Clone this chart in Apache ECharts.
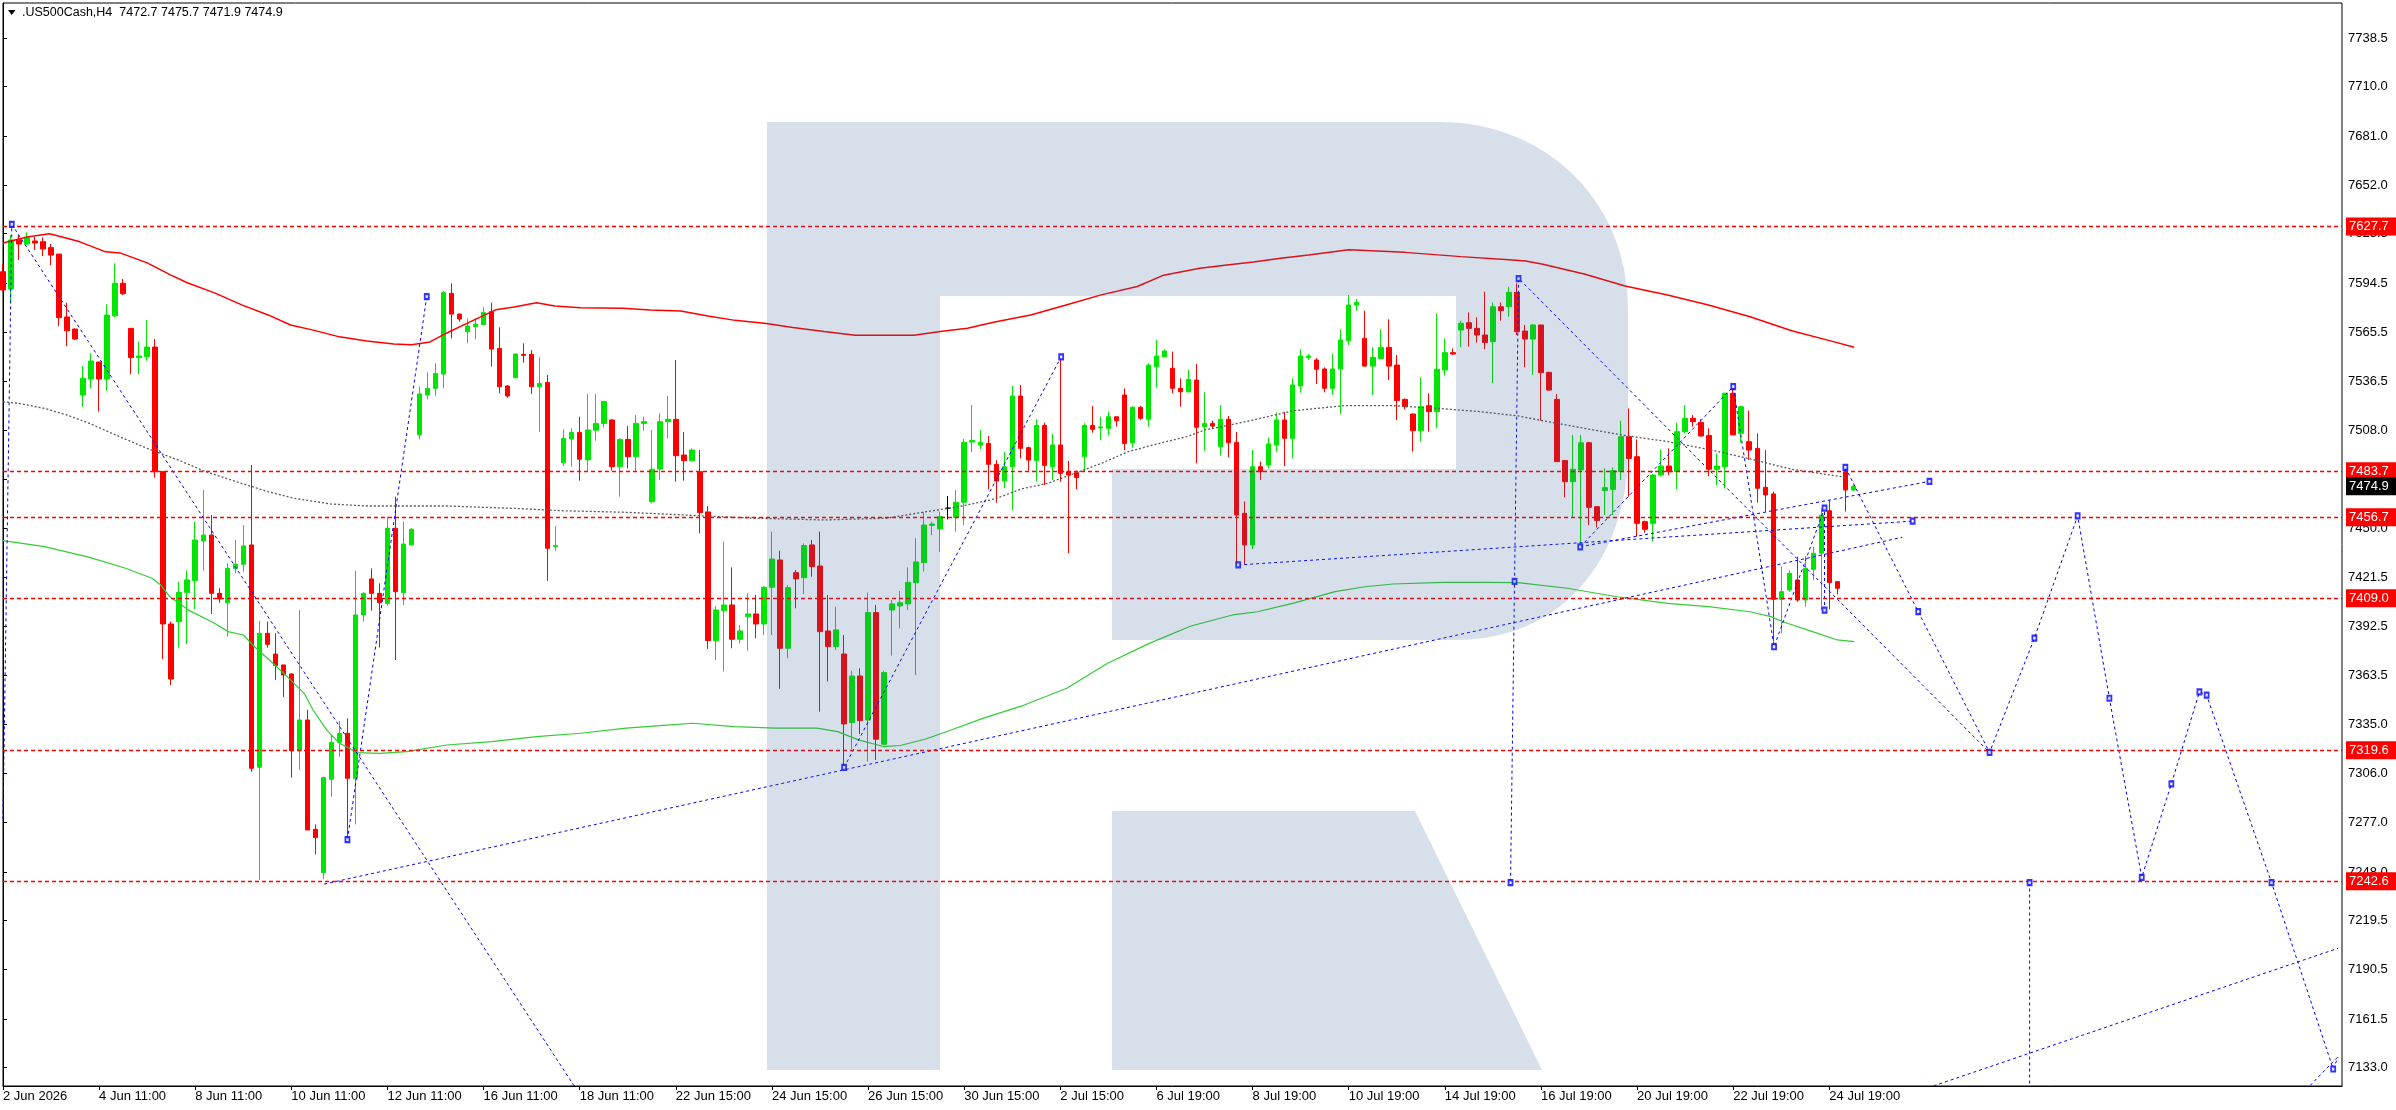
<!DOCTYPE html>
<html><head><meta charset="utf-8">
<script src="https://cdn.jsdelivr.net/npm/echarts@6/dist/echarts.min.js"></script>
<style>html,body{margin:0;padding:0;background:#fff;}#c{width:2396px;height:1110px;}</style>
</head><body><div id="c"></div>
<script>
// ---- data ----
const titleText = '.US500Cash,H4  7472.7 7475.7 7471.9 7474.9';
const xLabels = ['2 Jun 2026','4 Jun 11:00','8 Jun 11:00','10 Jun 11:00','12 Jun 11:00','16 Jun 11:00','18 Jun 11:00','22 Jun 15:00','24 Jun 15:00','26 Jun 15:00','30 Jun 15:00','2 Jul 15:00','6 Jul 19:00','8 Jul 19:00','10 Jul 19:00','14 Jul 19:00','16 Jul 19:00','20 Jul 19:00','22 Jul 19:00','24 Jul 19:00'];
const labelStep = 12;
const totalSlots = 293;
const yTicks = [7133.0,7161.5,7190.5,7219.5,7248.0,7277.0,7306.0,7335.0,7363.5,7392.5,7421.5,7450.0,7479.0,7508.0,7536.5,7565.5,7594.5,7623.5,7652.0,7681.0,7710.0,7738.5];
const yMin = 7122.1, yMax = 7759.2;

const opens = [7601.1,7590.9,7619.8,7617.4,7619.2,7618.8,7615.3,7611.5,7574.5,7567.4,
7528.6,7538.0,7548.0,7538.0,7575.2,7594.3,7567.8,7550.6,7551.1,7556.8,
7483.5,7393.9,7395.3,7412.5,7419.4,7442.7,7446.2,7411.9,7406.4,7426.6,
7429.0,7440.4,7309.6,7388.4,7376.2,7369.8,7364.5,7319.4,7337.4,7273.1,
7247.6,7302.5,7324.3,7329.6,7303.1,7399.2,7420.4,7411.9,7406.0,7450.2,
7412.3,7440.4,7505.1,7528.6,7532.5,7540.9,7588.4,7576.2,7565.8,7568.8,
7570.0,7577.6,7556.0,7533.9,7538.8,7552.5,7552.5,7533.5,7536.0,7439.4,
7488.8,7502.7,7506.6,7490.4,7507.9,7511.9,7513.9,7486.4,7502.5,7492.3,
7511.9,7465.8,7485.0,7512.9,7514.3,7493.3,7490.0,7483.5,7459.8,7384.1,
7401.7,7405.1,7384.9,7398.2,7399.8,7393.9,7415.5,7431.5,7379.6,7424.1,
7421.1,7440.4,7428.0,7389.8,7380.6,7376.2,7335.9,7363.3,7337.4,7400.6,
7323.1,7402.1,7404.5,7405.7,7418.2,7430.0,7451.9,7449.8,7462.0,7456.6,
7465.5,7500.9,7499.2,7500.1,7487.8,7478.0,7486.4,7528.0,7497.6,7490.0,
7510.7,7486.4,7499.2,7483.5,7482.9,7492.3,7510.7,7509.2,7509.0,7515.8,
7528.6,7500.5,7521.3,7514.3,7545.2,7551.1,7544.3,7532.5,7530.5,7537.4,
7510.0,7511.9,7498.2,7514.3,7500.7,7459.0,7440.4,7486.4,7487.4,7499.2,
7513.9,7503.1,7533.9,7550.7,7549.2,7543.9,7532.5,7543.9,7560.5,7581.5,
7561.9,7545.6,7550.1,7556.6,7546.2,7526.0,7517.4,7507.6,7522.3,7518.8,
7543.3,7553.5,7566.8,7571.1,7567.8,7563.9,7560.0,7580.5,7580.5,7589.0,
7566.2,7561.5,7569.8,7541.9,7526.0,7490.0,7477.6,7484.5,7500.5,7462.9,
7472.3,7473.1,7483.5,7504.1,7492.3,7454.1,7453.1,7481.5,7486.8,7483.5,
7507.0,7514.9,7512.5,7504.7,7484.9,7486.4,7529.6,7506.0,7501.1,7497.2,
7474.3,7470.4,7408.4,7413.9,7419.8,7408.0,7426.0,7435.5,7460.5,7418.8,
7483.5,7472.7];
const closes = [7590.4,7619.8,7617.4,7621.3,7618.0,7614.5,7610.9,7574.1,7566.4,7561.5,
7538.4,7548.6,7538.0,7575.6,7594.3,7588.2,7550.6,7551.5,7556.8,7483.5,
7393.9,7361.5,7412.5,7419.8,7443.3,7446.2,7411.9,7408.6,7426.6,7429.0,
7439.8,7309.0,7388.4,7381.9,7369.4,7363.9,7319.4,7337.4,7272.7,7268.2,
7303.5,7324.3,7329.6,7303.1,7399.2,7411.9,7411.9,7406.4,7450.2,7412.9,
7440.9,7449.6,7529.2,7532.5,7541.3,7588.8,7576.2,7573.3,7569.2,7570.3,
7577.2,7555.6,7533.5,7528.0,7552.7,7551.9,7533.5,7535.4,7438.4,7440.0,
7503.1,7506.6,7490.8,7508.0,7511.9,7524.7,7486.4,7502.5,7492.3,7511.9,
7512.9,7484.9,7512.9,7514.3,7492.9,7490.0,7496.2,7459.4,7384.1,7402.1,
7405.1,7384.9,7389.8,7399.8,7393.9,7415.5,7432.1,7379.6,7415.3,7420.4,
7440.0,7427.6,7389.4,7380.6,7390.4,7335.1,7363.3,7337.0,7400.6,7326.1,
7365.3,7405.7,7406.4,7418.4,7430.4,7452.1,7452.7,7457.0,7462.0,7465.5,
7500.7,7501.9,7500.7,7487.8,7478.0,7486.4,7528.0,7497.2,7490.3,7510.7,
7487.2,7499.2,7482.5,7481.5,7480.0,7510.7,7508.4,7509.8,7515.8,7513.5,
7500.1,7521.3,7514.9,7546.2,7551.5,7554.5,7532.5,7530.5,7537.8,7509.6,
7511.9,7510.3,7514.3,7500.5,7458.0,7440.4,7486.4,7483.5,7499.8,7513.9,
7503.1,7534.5,7551.5,7551.5,7543.7,7532.5,7543.9,7560.9,7581.5,7583.1,
7545.6,7550.7,7556.6,7545.6,7525.3,7521.7,7507.6,7521.7,7518.8,7543.7,
7553.5,7552.7,7570.8,7567.8,7563.9,7559.4,7580.5,7578.2,7589.0,7565.8,
7561.5,7569.8,7541.7,7531.5,7489.4,7477.6,7484.9,7500.5,7462.5,7454.7,
7474.1,7484.1,7504.1,7491.3,7453.1,7449.6,7481.5,7486.8,7483.5,7507.0,
7514.9,7512.9,7504.5,7484.9,7486.8,7529.6,7505.1,7521.7,7496.2,7473.7,
7469.8,7408.4,7412.9,7423.7,7408.0,7426.6,7435.5,7458.0,7418.2,7414.9,
7472.7,7474.9];
const lows = [7589.4,7582.5,7608.0,7616.8,7613.9,7610.3,7605.0,7569.2,7557.4,7560.9,
7521.7,7532.5,7518.8,7531.1,7574.3,7587.4,7540.9,7540.9,7548.8,7480.0,
7373.3,7358.0,7380.0,7382.1,7402.7,7425.3,7399.8,7406.4,7386.4,7423.7,
7424.7,7307.0,7243.3,7380.0,7361.0,7350.8,7303.5,7308.0,7272.7,7258.4,
7243.7,7292.3,7315.9,7266.8,7276.0,7395.3,7401.7,7380.0,7404.7,7372.7,
7405.1,7440.0,7502.5,7526.0,7528.2,7532.5,7561.9,7571.7,7559.0,7561.3,
7569.8,7545.3,7529.6,7527.0,7538.8,7547.6,7529.2,7507.0,7419.2,7437.0,
7486.8,7486.4,7478.2,7483.5,7501.7,7509.6,7484.1,7468.8,7485.4,7484.1,
7507.6,7464.9,7478.6,7503.1,7477.6,7478.2,7489.4,7447.2,7379.2,7372.7,
7365.9,7379.6,7382.5,7378.2,7385.5,7387.4,7387.4,7355.7,7373.7,7403.1,
7411.5,7421.7,7342.3,7360.0,7378.6,7311.0,7320.2,7329.2,7312.9,7313.9,
7322.7,7375.3,7391.3,7402.1,7363.9,7424.7,7446.2,7436.4,7455.4,7448.2,
7452.1,7495.0,7496.8,7473.1,7465.2,7473.7,7460.9,7491.3,7484.1,7477.6,
7475.6,7478.6,7477.6,7435.5,7473.1,7483.5,7506.4,7502.1,7505.0,7510.0,
7496.2,7497.6,7513.9,7510.0,7532.9,7550.7,7529.6,7521.7,7530.0,7488.4,
7495.8,7508.8,7492.9,7491.9,7428.6,7428.6,7438.0,7478.6,7485.4,7495.2,
7486.8,7491.3,7530.0,7549.2,7535.1,7530.2,7528.6,7517.4,7558.0,7578.2,
7545.3,7528.6,7549.8,7537.4,7513.9,7520.2,7495.3,7501.1,7507.0,7509.0,
7540.0,7552.1,7556.6,7557.0,7559.4,7555.5,7535.5,7572.3,7574.7,7563.9,
7544.9,7540.4,7513.5,7531.1,7489.4,7468.4,7456.4,7440.4,7452.1,7450.7,
7458.0,7458.0,7478.6,7468.8,7445.3,7447.6,7442.3,7480.6,7481.5,7473.1,
7506.0,7510.0,7504.1,7480.9,7475.6,7473.7,7505.1,7500.5,7490.4,7465.3,
7460.0,7383.5,7388.4,7412.9,7407.0,7404.1,7419.8,7402.1,7402.5,7411.3,
7460.0,7471.9];
const highs = [7605.6,7622.7,7622.7,7624.3,7621.7,7621.3,7617.4,7611.5,7582.9,7567.8,
7545.6,7553.1,7548.0,7581.9,7606.0,7596.8,7567.8,7559.9,7572.7,7561.5,
7483.7,7395.3,7418.8,7425.3,7454.1,7472.7,7458.0,7414.9,7429.6,7443.3,
7452.1,7487.4,7395.7,7395.3,7388.4,7369.8,7364.9,7402.1,7343.3,7276.0,
7304.1,7328.6,7336.8,7338.4,7425.1,7412.5,7426.6,7417.8,7457.0,7468.8,
7454.1,7450.2,7533.5,7541.9,7547.2,7589.8,7594.3,7576.6,7573.7,7573.7,
7580.2,7582.9,7568.4,7534.5,7553.1,7559.0,7555.0,7550.7,7540.4,7451.5,
7508.4,7509.0,7515.8,7529.2,7529.2,7525.3,7514.3,7503.1,7510.3,7516.8,
7515.8,7508.0,7517.8,7528.0,7549.2,7506.9,7497.2,7496.2,7463.3,7404.5,
7442.3,7427.2,7393.3,7411.9,7411.0,7416.2,7448.2,7437.0,7416.8,7425.7,
7441.3,7443.3,7448.2,7410.9,7404.1,7387.4,7366.4,7367.8,7412.3,7405.1,
7366.4,7408.0,7413.3,7427.2,7444.3,7459.6,7454.1,7460.0,7469.2,7472.7,
7502.7,7522.7,7508.0,7504.5,7490.3,7495.2,7533.9,7534.5,7498.2,7514.3,
7512.3,7505.6,7549.6,7489.8,7484.1,7511.9,7522.1,7515.8,7518.8,7515.8,
7532.5,7522.1,7522.1,7547.2,7560.9,7555.4,7554.1,7538.4,7543.3,7546.8,
7530.2,7513.5,7522.7,7516.2,7506.8,7466.0,7496.2,7489.4,7503.7,7518.4,
7518.8,7538.4,7555.5,7552.7,7550.2,7544.9,7552.7,7567.2,7587.4,7585.1,
7578.2,7556.6,7567.2,7573.1,7552.1,7526.6,7517.8,7539.0,7529.6,7576.6,
7561.9,7556.0,7572.3,7577.2,7574.3,7589.4,7583.1,7583.1,7592.3,7594.3,
7569.8,7570.4,7569.8,7542.3,7529.2,7490.4,7505.1,7505.1,7501.1,7463.3,
7485.5,7486.0,7513.5,7520.7,7502.5,7454.7,7482.1,7496.6,7497.2,7512.3,
7522.7,7516.8,7514.3,7509.0,7494.3,7530.0,7533.1,7522.1,7519.4,7506.0,
7496.2,7471.7,7427.6,7425.6,7433.5,7433.9,7439.4,7461.9,7466.8,7419.2,
7485.5,7475.7];

const levels = [7627.7, 7483.7, 7456.7, 7409.0, 7319.6, 7242.6];
const lastPrice = 7474.9;

const maRed = [[0,7618],[3,7621.6],[5.8,7623.4],[7.4,7621.6],[9.6,7618.7],[12.8,7612.8],[14.6,7612.2],[18,7606.3],[20.9,7599.3],[23,7594.6],[26.4,7588.7],[29.8,7581.6],[33.1,7575.7],[35.9,7569.8],[38.6,7566.9],[42,7562.8],[45.4,7560.4],[48.8,7558.6],[51,7558.1],[53.3,7559.8],[55.4,7565.1],[58.3,7571.6],[61.5,7578.7],[63.8,7580.4],[66.6,7582.8],[68.9,7581],[72.1,7579.9],[77.4,7579.6],[80.8,7578.6],[84.6,7578],[88,7575.1],[91.4,7572.5],[95.3,7570.6],[98.6,7568.3],[102.5,7565.9],[106.4,7563.7],[113.7,7563.7],[117,7565.9],[120.4,7567.9],[123.8,7571.6],[128.3,7575.7],[132.6,7581.4],[137.1,7587.5],[141.6,7592.4],[144.9,7599.1],[149.4,7603.2],[152.8,7605.1],[156.1,7606.9],[159.5,7609.1],[163,7611],[168,7614],[175,7612.5],[182,7610],[188,7608.2],[190.1,7607.4],[192.1,7605.6],[197.4,7599.8],[202.5,7592.7],[207.8,7587.4],[212.9,7581.5],[218.1,7574.6],[223.3,7566.4],[228.5,7560],[231.1,7556.7]];
const maGrey = [[0,7524.6],[1.9,7523.7],[5.2,7520.7],[8,7516.8],[10.8,7511.9],[14.1,7505],[18,7497.2],[21.9,7490.3],[25.3,7483.5],[29.8,7476.6],[33.1,7471.7],[36.4,7467.8],[40.9,7464.5],[45.4,7463.3],[55.4,7463.3],[63.8,7461.9],[69.9,7460.5],[77.8,7459.6],[82.4,7458.6],[89.7,7457],[93.9,7456.1],[102.5,7455.1],[110.3,7456.1],[114.8,7459.6],[119.3,7462.9],[123.8,7467.4],[127.1,7473.3],[130.4,7476.6],[133.8,7482.5],[137.1,7488.4],[140.5,7495.3],[144.4,7500.2],[147.8,7504.1],[150,7508],[152.8,7510.6],[156.1,7513.9],[161,7519.3],[167.3,7522.3],[173.5,7522.3],[179.2,7520.7],[184.4,7518.8],[189.1,7516.3],[192.2,7513.5],[197.4,7509],[202.6,7504.7],[207.8,7501.2],[212.9,7496.6],[218.1,7491],[223.3,7484.9],[225.9,7483.1],[230,7480.2]];
const maGreen = [[0,7442.9],[5.2,7439.4],[10.8,7433.1],[15.3,7426.7],[18.6,7420.8],[19.7,7416.8],[20.8,7410],[23.1,7402.2],[26.4,7394.3],[28.1,7389.4],[30,7387.4],[31.4,7380.5],[33.7,7370.8],[35.9,7361],[37.6,7353.1],[38.7,7343.3],[40.4,7331.6],[42,7323.7],[44.3,7318.2],[47.1,7317.8],[50.4,7318.8],[55.4,7322.7],[61,7324.7],[66.6,7327.6],[72.1,7329.6],[77.8,7332.6],[83.3,7334.5],[86.1,7335.5],[91.3,7333.5],[96.4,7332.6],[101.6,7332.6],[104.2,7330.6],[106.8,7325.7],[109.9,7321.8],[112,7322.4],[115.1,7326.1],[118.2,7331.2],[122.4,7338.5],[127.5,7346.2],[132.8,7356.1],[137.9,7370.8],[143.1,7382.5],[148.3,7392.7],[153.5,7399.2],[156.6,7401.1],[161,7406],[166.3,7412.9],[170,7415.8],[173.5,7417.4],[179.8,7418.4],[184.9,7418.4],[189.1,7418.2],[195.3,7414.9],[201.5,7409.9],[207.8,7406],[212.9,7404.1],[218.1,7401.1],[220.7,7398.2],[222.2,7395.2],[225.9,7389.4],[229,7384.5],[231.1,7383.5]];

const trendLines = [
  [[0,7279],[1.1,7629]],
  [[1.1,7629],[71.6,7120]],
  [[43.0,7267],[52.9,7586.5]],
  [[40.1,7240.9],[237.1,7444.9]],
  [[105,7309.5],[132.1,7551]],
  [[154.2,7428.6],[238.4,7454.4]],
  [[196.9,7439.3],[240.5,7477.8]],
  [[189.2,7597],[188.2,7241.8]],
  [[189.4,7596.3],[248.0,7318.3]],
  [[196.9,7439.3],[216.0,7533.5],[221.1,7380.5],[227.4,7462],[227.4,7402]],
  [[230.0,7486],[239.1,7401.1],[248.0,7318.3],[253.6,7385.6],[259.0,7457.5],[262.96,7350.2],[267.0,7244.8],[270.7,7299.9],[274.2,7353.9],[275.1,7352],[283.2,7241.8],[290.9,7132.1],[291.5,7139]],
  [[253.0,7241.8],[253.0,7110]],
  [[239.6,7119.9],[291.5,7203.1]],
  [[287.5,7119.9],[291.5,7139.3]]
];
const anchorPts = [[1.1,7629],[52.9,7586.5],[43,7267],[105,7309.5],[132.1,7551],[154.2,7428.6],[196.9,7439.3],[189.2,7597],[188.7,7419],[188.2,7241.8],[216,7533.5],[221.1,7380.5],[227.4,7462],[227.4,7402],[230,7486],[239.1,7401.1],[248,7318.3],[253.6,7385.6],[259,7457.5],[262.96,7350.2],[267,7244.8],[270.7,7299.9],[274.2,7353.9],[275.1,7352],[283.2,7241.8],[290.9,7132.1],[253,7241.8],[238.4,7454.4],[240.5,7477.8]];

// ---- build ----
const FONT = '"Liberation Sans", Arial, sans-serif';
const GREEN = '#00e600', RED = '#ff0000';
const cats = Array.from({length: totalSlots}, (_, i) => String(i));
const labelAt = {};
xLabels.forEach((t, k) => { labelAt[k * labelStep] = t; });
const showIdx = (idx) => labelAt[idx] !== undefined;

const candleData = opens.map((o, i) => {
  const item = { value: [o, closes[i], lows[i], highs[i]] };
  if (o === closes[i]) item.itemStyle = { color: '#000', color0: '#000', borderColor: '#000', borderColor0: '#000' };
  return item;
});

const markData = levels.map(v => ({ yAxis: v, label: { formatter: v.toFixed(1) } }));
markData.push({ yAxis: lastPrice, lineStyle: { color: 'rgba(0,0,0,0)' }, label: { formatter: lastPrice.toFixed(1), backgroundColor: '#000' } });

const series = [{
  type: 'candlestick', xAxisIndex: 0, yAxisIndex: 0, data: candleData, barWidth: 5, z: 2,
  itemStyle: { color: GREEN, color0: RED, borderColor: GREEN, borderColor0: RED, borderWidth: 1 },
  markLine: {
    symbol: 'none', silent: true, animation: false,
    lineStyle: { color: RED, type: [4, 3], width: 1.3 },
    label: { show: true, position: 'end', distance: 4, color: '#fff', backgroundColor: RED, fontFamily: FONT, fontSize: 13, lineHeight: 15, padding: [2, 8, 1, 3] },
    data: markData
  }
}];
const maDefs = [[maRed, '#ff0000', 'solid', 1.5], [maGrey, '#5a5a5a', [2, 2], 1.3], [maGreen, '#33cc33', 'solid', 1.2]];
maDefs.forEach(([d, c, t, w]) => series.push({ type: 'line', xAxisIndex: 1, data: d, showSymbol: false, z: 3, lineStyle: { color: c, type: t, width: w } }));
trendLines.forEach(d => series.push({ type: 'line', xAxisIndex: 1, data: d, showSymbol: false, z: 4, lineStyle: { color: '#0000ff', type: [3, 3], width: 1 } }));
series.push({ type: 'scatter', xAxisIndex: 1, data: anchorPts, symbol: 'emptyRect', symbolSize: [4, 5], z: 5, itemStyle: { color: '#0000ff', borderColor: '#0000ff', borderWidth: 1 } });

// logo outline (decoration, pixel space): sample bezier corners into polygon points
function bez(p0, p1, p2, p3, n) {
  const out = [];
  for (let k = 1; k <= n; k++) {
    const t = k / n, u = 1 - t;
    out.push([u*u*u*p0[0] + 3*u*u*t*p1[0] + 3*u*t*t*p2[0] + t*t*t*p3[0],
              u*u*u*p0[1] + 3*u*u*t*p1[1] + 3*u*t*t*p2[1] + t*t*t*p3[1]]);
  }
  return out;
}
const logoA = [[767,122],[1440,122]]
  .concat(bez([1440,122],[1545,122],[1628,200],[1628,310],24))
  .concat([[1628,450]])
  .concat(bez([1628,450],[1628,560],[1560,640],[1457,640],24))
  .concat([[1112,640],[1112,469],[1456,469],[1456,296],[940,296],[940,1070],[767,1070]]);
const logoB = [[1112,811],[1415,811],[1542,1070],[1112,1070]];
const logoFill = 'rgba(54,100,152,0.2)';

const option = {
  animation: false,
  backgroundColor: '#fff',
  grid: { left: 3, right: 54, top: 3, bottom: 24, show: true, borderColor: '#000', borderWidth: 1, outerBoundsMode: 'none' },
  xAxis: [{
    type: 'category', data: cats, boundaryGap: false,
    axisLine: { lineStyle: { color: '#000', width: 1 } },
    axisTick: { show: true, interval: showIdx, length: 4, lineStyle: { color: '#000' } },
    axisLabel: { interval: showIdx, formatter: (v, idx) => labelAt[idx] || '', align: 'left', color: '#000', fontFamily: FONT, fontSize: 13, margin: 4, hideOverlap: false, showMaxLabel: true, showMinLabel: true },
    splitLine: { show: false }
  }, {
    type: 'value', min: 0, max: totalSlots - 1, show: false
  }],
  yAxis: [{
    type: 'value', position: 'right', min: yMin, max: yMax, scale: true,
    axisLine: { show: true, lineStyle: { color: '#000', width: 1 } },
    axisTick: { show: true, length: 4, customValues: yTicks, lineStyle: { color: '#000' } },
    axisLabel: { customValues: yTicks, formatter: v => v.toFixed(1), color: '#000', fontFamily: FONT, fontSize: 13, margin: 6 },
    splitLine: { show: false }
  }],
  series: series,
  graphic: [
    { type: 'polygon', z: 50, shape: { points: [[8, 10], [15.5, 10], [11.75, 15]] }, style: { fill: '#000' } },
    { type: 'text', z: 50, x: 22, y: 13, style: { text: titleText, font: '12.5px ' + FONT, fill: '#000', textVerticalAlign: 'middle' } },
    { type: 'polygon', z: 100, silent: true, shape: { points: logoA }, style: { fill: logoFill } },
    { type: 'polygon', z: 100, silent: true, shape: { points: logoB }, style: { fill: logoFill } }
  ]
};
const chart = echarts.init(document.getElementById('c'));
chart.setOption(option);
</script></body></html>
